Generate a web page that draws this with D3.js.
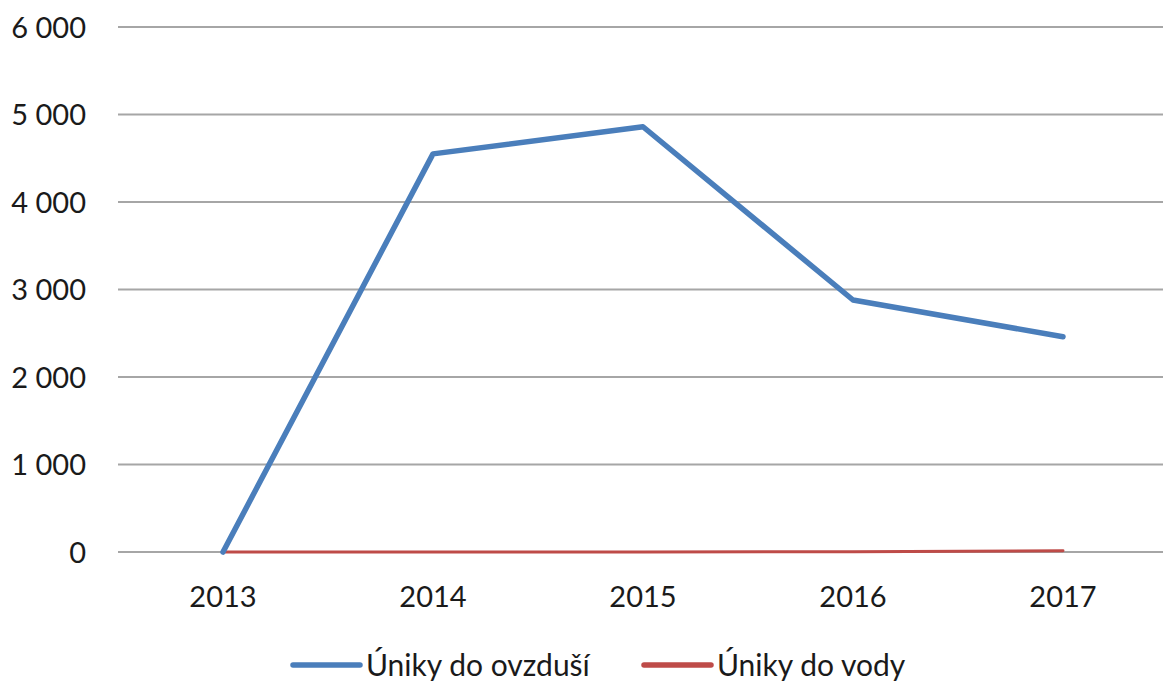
<!DOCTYPE html>
<html>
<head>
<meta charset="utf-8">
<script src="https://cdn.jsdelivr.net/npm/d3@7"></script>
<style>
  body { margin: 0; background: #fff; }
  text { font-family: Lato, "Open Sans", sans-serif; fill: #1a1a1a; }
</style>
</head>
<body>
<svg id="chart" width="1163" height="682"></svg>
<script>
// chart data
const years = ["2013", "2014", "2015", "2016", "2017"];
const airLeaks = [0, 4550, 4860, 2880, 2460];
const waterLeaks = [0, 0, 0, 3, 15];
const yTicks = [0, 1000, 2000, 3000, 4000, 5000, 6000];
const seriesNames = ["Úniky do ovzduší", "Úniky do vody"];
const seriesColors = ["#4a7ebb", "#be4b48"];

const svg = d3.select("#chart");
const margin = { top: 27, left: 118, bottom: 130 };
const plotRight = 1168;
const plotBottom = 682 - margin.bottom;

const x = d3.scaleBand().domain(years).range([margin.left, plotRight]);
const y = d3.scaleLinear().domain([0, 6000]).range([plotBottom, margin.top]);

// space as thousands separator, like the czech source
const cz = d3.formatLocale({ decimal: ",", thousands: " ", grouping: [3], currency: ["", " Kč"] });
const fmt = cz.format(",");

// gridlines
svg.append("g")
    .selectAll("line")
    .data(yTicks)
    .join("line")
    .attr("x1", margin.left)
    .attr("x2", plotRight)
    .attr("y1", d => y(d))
    .attr("y2", d => y(d))
    .attr("stroke", "#a6a6a6")
    .attr("stroke-width", 2);

// y axis labels
const yAxis = svg.append("g")
    .attr("transform", `translate(${margin.left - 32},0)`)
    .call(d3.axisLeft(y).tickValues(yTicks).tickFormat(fmt).tickSize(0).tickPadding(0));
yAxis.select(".domain").remove();
yAxis.selectAll("text")
    .attr("font-size", 29)
    .attr("dy", "0.35em")
    .style("font-family", "Lato, 'Open Sans', sans-serif")
    .attr("fill", "#1a1a1a");

// x axis labels
const xAxis = svg.append("g")
    .attr("transform", `translate(0,${plotBottom})`)
    .call(d3.axisBottom(x).tickSize(0).tickPadding(45));
xAxis.select(".domain").remove();
xAxis.selectAll("text")
    .attr("font-size", 29)
    .attr("dy", "0.35em")
    .style("font-family", "Lato, 'Open Sans', sans-serif")
    .attr("fill", "#1a1a1a");

const line = d3.line()
    .x((d, i) => x(years[i]) + x.bandwidth() / 2)
    .y(d => y(d));

// water first so air sits on top
svg.append("path")
    .datum(waterLeaks)
    .attr("d", line)
    .attr("fill", "none")
    .attr("stroke", seriesColors[1])
    .attr("stroke-width", 3)
    .attr("stroke-linejoin", "round")
    .attr("stroke-linecap", "round");

svg.append("path")
    .datum(airLeaks)
    .attr("d", line)
    .attr("fill", "none")
    .attr("stroke", seriesColors[0])
    .attr("stroke-width", 5.5)
    .attr("stroke-linejoin", "round")
    .attr("stroke-linecap", "round");

// legend
const legendX = [293, 644];
const legend = svg.append("g")
    .selectAll("g")
    .data(seriesNames)
    .join("g")
    .attr("transform", (d, i) => `translate(${legendX[i]},665)`);

legend.append("line")
    .attr("x1", 0)
    .attr("x2", 67)
    .attr("stroke", (d, i) => seriesColors[i])
    .attr("stroke-width", 5.5)
    .attr("stroke-linecap", "round");

legend.append("text")
    .attr("x", 73)
    .attr("dy", "0.35em")
    .attr("font-size", 30)
    .text(d => d);
</script>
</body>
</html>
